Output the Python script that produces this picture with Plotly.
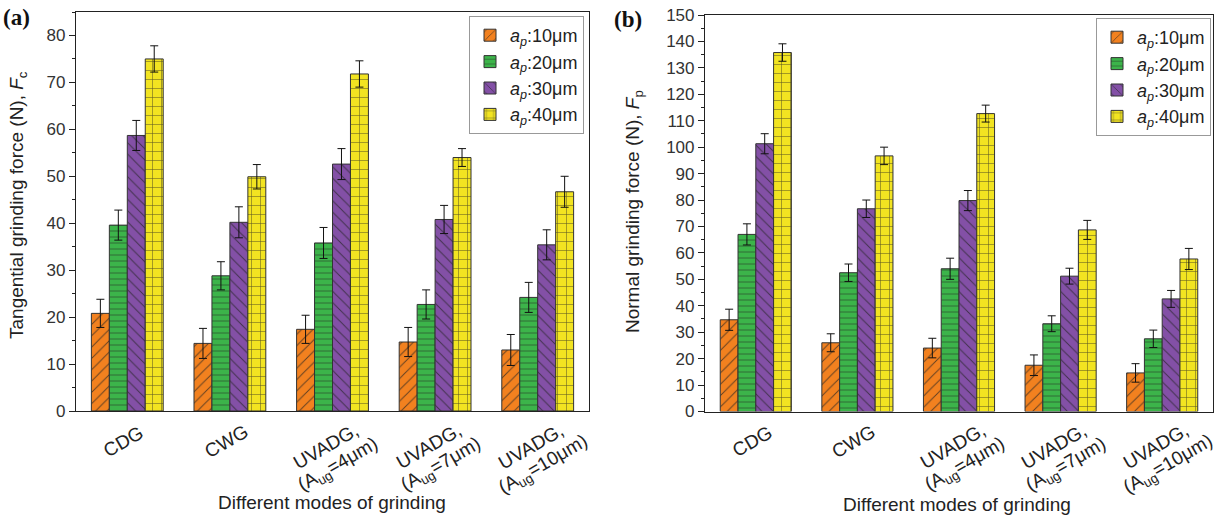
import plotly.graph_objects as go

categories = ["CDG", "CWG", "UVADG4", "UVADG7", "UVADG10"]
tick_line1 = ["CDG", "CWG", "UVADG,", "UVADG,", "UVADG,"]
tick_line2 = ["", "", "(A<sub>ug</sub>=4μm)", "(A<sub>ug</sub>=7μm)", "(A<sub>ug</sub>=10μm)"]
series_names = ["<i>a</i><sub><i>p</i></sub>:10μm", "<i>a</i><sub><i>p</i></sub>:20μm",
                "<i>a</i><sub><i>p</i></sub>:30μm", "<i>a</i><sub><i>p</i></sub>:40μm"]

# (a) tangential grinding force Fc
fc_10 = [20.8, 14.4, 17.4, 14.7, 13.0]
fc_20 = [39.6, 28.8, 35.8, 22.7, 24.2]
fc_30 = [58.7, 40.2, 52.6, 40.8, 35.4]
fc_40 = [75.0, 49.9, 71.8, 54.0, 46.7]
fc_10_err = [3.0, 3.2, 3.0, 3.1, 3.3]
fc_20_err = [3.2, 3.0, 3.3, 3.1, 3.2]
fc_30_err = [3.2, 3.3, 3.3, 3.0, 3.2]
fc_40_err = [2.8, 2.6, 2.8, 1.9, 3.3]

# (b) normal grinding force Fp
fp_10 = [34.7, 26.0, 24.0, 17.5, 14.6]
fp_20 = [67.0, 52.5, 54.0, 33.2, 27.5]
fp_30 = [101.3, 76.7, 79.8, 51.2, 42.6]
fp_40 = [135.8, 96.7, 112.7, 68.7, 57.7]
fp_10_err = [4.0, 3.4, 3.7, 3.9, 3.5]
fp_20_err = [4.0, 3.3, 4.0, 3.0, 3.3]
fp_30_err = [3.8, 3.3, 3.8, 3.0, 3.2]
fp_40_err = [3.3, 3.3, 3.2, 3.6, 4.0]

colors = ["#F2811F", "#3CB44A", "#8350A6", "#F2E421"]
patterns = [dict(shape="/", size=8), dict(shape="-", size=6),
            dict(shape="\\", size=8), dict(shape="+", size=9)]

W, H = 1219, 521
FONT = "Liberation Sans, Arial, sans-serif"
SERIF = "Liberation Serif, Times New Roman, serif"

fig = go.Figure()

def add_series(vals, errs, xa, ya, legend):
    for i, (v, e) in enumerate(zip(vals, errs)):
        p = patterns[i]
        fig.add_trace(go.Bar(
            x=categories, y=v, name=series_names[i],
            xaxis=xa, yaxis=ya, legend=legend,
            marker=dict(color=colors[i], line=dict(color="#333333", width=1),
                        pattern=dict(shape=p["shape"], size=p["size"], solidity=0.12,
                                     fgcolor="#222222", fgopacity=0.7)),
            error_y=dict(type="data", array=e, color="#111111", thickness=1, width=4),
        ))

add_series([fc_10, fc_20, fc_30, fc_40], [fc_10_err, fc_20_err, fc_30_err, fc_40_err],
           "x", "y", "legend")
add_series([fp_10, fp_20, fp_30, fp_40], [fp_10_err, fp_20_err, fp_30_err, fp_40_err],
           "x2", "y2", "legend2")

def px_x(p):
    return p / W

def px_y(p):
    return 1 - p / H

axis_common = dict(showline=True, linecolor="#222222", linewidth=1.2, mirror=True,
                   showgrid=False, zeroline=False, automargin=False)

xcommon = dict(axis_common, type="category", categoryorder="array", categoryarray=categories,
               ticks="", showticklabels=False, range=[-0.5, 4.5])

ycommon = dict(axis_common, dtick=10, tick0=0, ticks="outside", ticklen=6, tickwidth=1,
               tickcolor="#222222", tickfont=dict(family=FONT, size=17, color="#333333"),
               minor=dict(dtick=5, ticks="outside", ticklen=3, tickcolor="#222222"))

legend_common = dict(xanchor="right", yanchor="top", bgcolor="white",
                     bordercolor="#999999", borderwidth=1,
                     font=dict(family=FONT, size=18, color="#222222"), tracegroupgap=0)

fig.update_layout(
    width=W, height=H,
    margin=dict(l=0, r=0, t=0, b=0, autoexpand=False),
    paper_bgcolor="white", plot_bgcolor="white",
    barmode="group", bargap=0.30, bargroupgap=0.0,
    font=dict(family=FONT, color="#222222"),
    xaxis=dict(xcommon, domain=[px_x(76), px_x(589)], anchor="y"),
    xaxis2=dict(xcommon, domain=[px_x(705), px_x(1213)], anchor="y2"),
    yaxis=dict(ycommon, domain=[px_y(411), px_y(12)], range=[0, 85], anchor="x"),
    yaxis2=dict(ycommon, domain=[px_y(411.5), px_y(15)], range=[0, 150], anchor="x2"),
    legend=dict(legend_common, x=px_x(584), y=px_y(16)),
    legend2=dict(legend_common, x=px_x(1211), y=px_y(18)),
    showlegend=True,
)

TICKFONT = dict(family=FONT, size=19, color="#222222")
annotations = [
    dict(text="<b>(a)</b>", x=px_x(1), y=px_y(18), xanchor="left", yanchor="middle",
         font=dict(family=SERIF, size=23, color="#111111")),
    dict(text="<b>(b)</b>", x=px_x(612), y=px_y(20), xanchor="left", yanchor="middle",
         font=dict(family=SERIF, size=23, color="#111111")),
    dict(text="Tangential grinding force (N), <i>F</i><sub>c</sub>", x=px_x(18), y=px_y(205),
         textangle=-90, xanchor="center", yanchor="middle",
         font=dict(family=FONT, size=19, color="#222222")),
    dict(text="Normal grinding force (N), <i>F</i><sub>p</sub>", x=px_x(634), y=px_y(212),
         textangle=-90, xanchor="center", yanchor="middle",
         font=dict(family=FONT, size=19, color="#222222")),
    dict(text="Different modes of grinding", x=px_x(332), y=px_y(502),
         xanchor="center", yanchor="middle", font=dict(family=FONT, size=19, color="#222222")),
    dict(text="Different modes of grinding", x=px_x(957), y=px_y(504),
         xanchor="center", yanchor="middle", font=dict(family=FONT, size=19, color="#222222")),
]
for a in annotations:
    a.update(xref="paper", yref="paper")

# rotated category labels under each group
for xa in ["x", "x2"]:
    for cat, l1, l2 in zip(categories, tick_line1, tick_line2):
        if l2:
            annotations.append(dict(text=l1, xref=xa, x=cat, yref="paper", y=px_y(446),
                                    xshift=-7, textangle=-30, xanchor="center",
                                    yanchor="middle", font=TICKFONT))
            annotations.append(dict(text=l2, xref=xa, x=cat, yref="paper", y=px_y(465),
                                    xshift=6, textangle=-30, xanchor="center",
                                    yanchor="middle", font=TICKFONT))
        else:
            annotations.append(dict(text=l1, xref=xa, x=cat, yref="paper", y=px_y(441),
                                    xshift=-4, textangle=-30, xanchor="center",
                                    yanchor="middle", font=TICKFONT))

for a in annotations:
    a.update(showarrow=False)
fig.update_layout(annotations=annotations)

fig.write_html("out.html")
